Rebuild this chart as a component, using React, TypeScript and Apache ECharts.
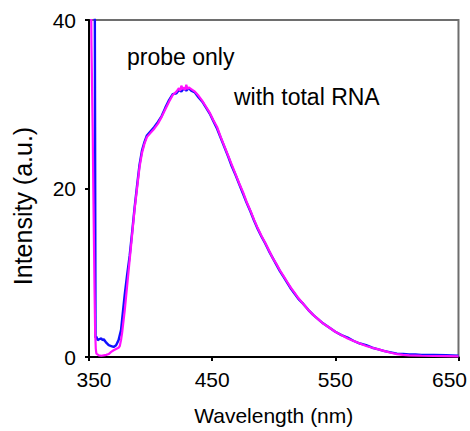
import React, { useEffect, useRef } from "react";
import * as echarts from "echarts";

const xTicks = { min: 350, max: 650, step: 100 };
const yTicks = { min: 0, max: 40, step: 20 };
const xTitle = "Wavelength (nm)";
const yTitle = "Intensity (a.u.)";
const seriesNames = ["probe only", "with total RNA"];

// blue trace: [wavelength nm, intensity]
const probeOnly: [number, number][] = [
  [350, 90], [352, 90], [354, 90], [355.3, 2.3], [356, 2.4], [357, 2.0], [358, 2.1], [360, 2.2],
  [361, 2.0], [362, 2.1], [364, 1.7], [366, 1.4], [368, 1.3], [370, 1.2], [372, 1.4], [374, 2.0],
  [376, 3.2], [377, 4.6], [379, 7.4], [381, 9.8], [383, 12.0], [385, 14.8], [387, 17.7], [389, 20.3],
  [391, 22.8], [393, 24.5], [395, 25.5], [397, 26.3], [400, 26.8], [403, 27.3], [406, 27.9], [409, 28.6],
  [412, 29.6], [415, 30.5], [418, 31.2], [421, 31.3], [423, 31.7], [425, 31.5], [427, 31.9], [429, 31.6],
  [431, 31.9], [433, 31.6], [436, 31.4], [439, 30.8], [442, 30.3], [445, 29.6], [448, 28.9], [451, 28.0],
  [454, 27.1], [457, 26.0], [460, 24.9], [463, 23.8], [466, 22.6], [469, 21.6], [472, 20.5], [475, 19.4],
  [478, 18.3], [481, 17.3], [484, 16.2], [487, 15.2], [490, 14.3], [493, 13.5], [496, 12.6], [499, 11.8],
  [502, 11.0], [505, 10.2], [508, 9.5], [511, 8.8], [514, 8.1], [517, 7.5], [520, 6.9], [524, 6.3],
  [528, 5.6], [532, 5.0], [536, 4.5], [540, 4.0], [545, 3.5], [550, 3.0], [555, 2.6], [560, 2.3],
  [565, 1.9], [570, 1.6], [575, 1.4], [580, 1.1], [585, 0.9], [590, 0.7], [595, 0.55], [600, 0.4],
  [605, 0.35], [610, 0.3], [615, 0.3], [620, 0.25], [630, 0.25], [640, 0.2], [650, 0.15],
];

// magenta trace: [wavelength nm, intensity]
const withTotalRNA: [number, number][] = [
  [350, 75], [351, 55], [352, 37], [353, 27], [353.5, 20], [354, 14], [354.5, 8], [355, 3],
  [355.5, 1], [356, 0.4], [358, 0.2], [360, 0.15], [362, 0.2], [364, 0.25], [366, 0.35], [368, 0.6],
  [370, 0.8], [372, 0.95], [374, 1.1], [375, 1.3], [376, 2.0], [377, 3.0], [379, 5.5], [381, 8.5],
  [383, 11.5], [385, 14.5], [387, 17.5], [389, 20.0], [391, 22.5], [393, 24.2], [395, 25.3], [397, 26.1],
  [400, 26.6], [403, 27.1], [406, 27.7], [409, 28.5], [412, 29.4], [415, 30.3], [418, 31.1], [421, 31.5],
  [423, 31.9], [424, 31.6], [425, 32.2], [426, 31.8], [427, 32.0], [428, 31.7], [429, 32.3], [430, 31.8],
  [431, 32.0], [433, 31.8], [436, 31.5], [439, 31.0], [442, 30.4], [445, 29.7], [448, 29.0], [451, 28.1],
  [454, 27.3], [457, 26.1], [460, 25.0], [463, 23.9], [466, 22.8], [469, 21.7], [472, 20.6], [475, 19.6],
  [478, 18.4], [481, 17.4], [484, 16.3], [487, 15.3], [490, 14.4], [493, 13.6], [496, 12.7], [499, 11.8],
  [502, 11.1], [505, 10.3], [508, 9.6], [511, 8.9], [514, 8.2], [517, 7.6], [520, 7.0], [524, 6.3],
  [528, 5.6], [532, 5.0], [536, 4.5], [540, 4.0], [545, 3.5], [550, 3.0], [555, 2.6], [560, 2.2],
  [565, 1.9], [570, 1.6], [575, 1.3], [580, 1.1], [585, 0.9], [590, 0.7], [595, 0.5], [600, 0.35],
  [605, 0.25], [610, 0.2], [620, 0.15], [630, 0.12], [640, 0.1], [650, 0.08],
];

const FONT = "'Liberation Sans', Arial, sans-serif";

export default function App() {
  const ref = useRef<HTMLDivElement>(null);
  useEffect(() => {
    const chart = echarts.init(ref.current!, null, { renderer: "svg" });
    const labelStyle = { fontSize: 21, color: "#000", fontFamily: FONT };
    chart.setOption({
      animation: false,
      backgroundColor: "#fff",
      grid: {
        left: 89,
        right: 9,
        top: 20,
        bottom: 68,
        show: true,
        borderColor: "#6e6e6e",
        borderWidth: 2,
        containLabel: false,
      },
      xAxis: {
        type: "value",
        min: xTicks.min,
        max: xTicks.max,
        interval: xTicks.step,
        axisLine: { show: true, lineStyle: { color: "#000", width: 2 } },
        axisTick: { show: true, length: 4, lineStyle: { color: "#000", width: 2 } },
        splitLine: { show: false },
        axisLabel: {
          ...labelStyle,
          margin: 12,
          formatter: (v: number) =>
            v === xTicks.min ? `{l|${v}}` : v === xTicks.max ? `{r|${v}}` : `${v}`,
          rich: {
            l: { ...labelStyle, padding: [0, 0, 0, 10] },
            r: { ...labelStyle, padding: [0, 18, 0, 0] },
          },
        },
        name: xTitle,
        nameLocation: "middle",
        nameGap: 48,
        nameTextStyle: { fontSize: 21, color: "#000", fontFamily: FONT },
      },
      yAxis: {
        type: "value",
        min: yTicks.min,
        max: yTicks.max,
        interval: yTicks.step,
        axisLine: { show: true, lineStyle: { color: "#000", width: 2 } },
        axisTick: { show: true, length: 4, lineStyle: { color: "#000", width: 2 } },
        splitLine: { show: false },
        axisLabel: { ...labelStyle, margin: 13 },
      },
      graphic: [
        {
          type: "text",
          x: 23,
          y: 206,
          rotation: Math.PI / 2,
          style: {
            text: yTitle,
            fontSize: 25,
            fontFamily: FONT,
            fill: "#000",
            align: "center",
            verticalAlign: "middle",
          },
        },
        {
          type: "text",
          x: 127,
          y: 57,
          style: {
            text: seriesNames[0],
            fontSize: 23,
            fontFamily: FONT,
            fill: "#000",
            align: "left",
            verticalAlign: "middle",
          },
        },
        {
          type: "text",
          x: 234,
          y: 97,
          style: {
            text: seriesNames[1],
            fontSize: 23,
            fontFamily: FONT,
            fill: "#000",
            align: "left",
            verticalAlign: "middle",
          },
        },
      ],
      series: [
        {
          name: seriesNames[0],
          type: "line",
          data: probeOnly,
          showSymbol: false,
          clip: true,
          lineStyle: { color: "#1010ff", width: 2.4 },
          itemStyle: { color: "#1010ff" },
          z: 2,
        },
        {
          name: seriesNames[1],
          type: "line",
          data: withTotalRNA,
          showSymbol: false,
          clip: true,
          lineStyle: { color: "#ff10ff", width: 2.2 },
          itemStyle: { color: "#ff10ff" },
          z: 3,
        },
      ],
    });
    return () => chart.dispose();
  }, []);
  return (
    <div
      ref={ref}
      style={{ position: "fixed", left: 0, top: 0, width: 470, height: 431 }}
    />
  );
}
